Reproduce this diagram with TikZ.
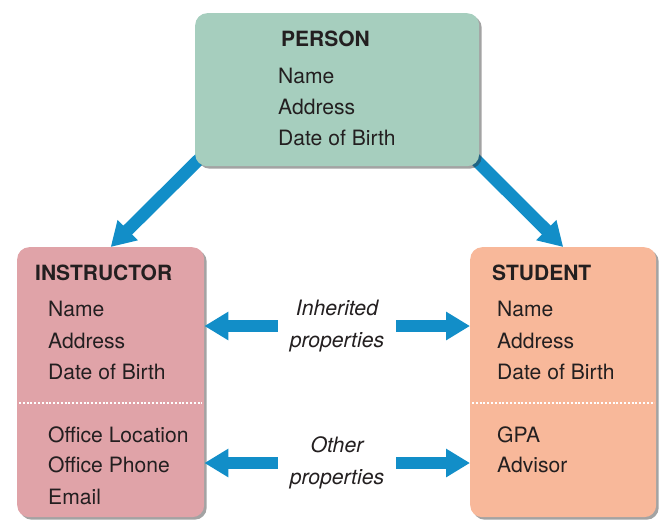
\documentclass[tikz,border=0pt]{standalone}
\usepackage{fontspec}
\setmainfont{TeX Gyre Heros}
\usetikzlibrary{arrows.meta,shadows,backgrounds}
\definecolor{ink}{HTML}{231F20}
\definecolor{personfill}{HTML}{A6CEBE}
\definecolor{instrfill}{HTML}{E0A3A8}
\definecolor{studfill}{HTML}{F8B89A}
\definecolor{arrowblue}{HTML}{128EC8}
\tikzset{
	box/.style={rounded corners=12pt, inner sep=0pt, anchor=north west,
		drop shadow={shadow xshift=2.5pt, shadow yshift=-2.5pt, opacity=.45, fill=black!80}},
	title/.style={anchor=base west, inner sep=0pt, text=ink, font=\fontsize{21}{24}\selectfont\bfseries},
	item/.style={anchor=base west, inner sep=0pt, text=ink, font=\fontsize{21.1}{24}\selectfont},
	note/.style={align=center, inner sep=0pt, minimum width=118pt, text=ink, font=\fontsize{21.2}{32}\selectfont\itshape},
	bigarrow/.style={draw=arrowblue, line width=12.5pt, -{Triangle[length=24pt,width=27pt]}},
	cut/.style={draw=white, line width=2pt, dash pattern=on 2pt off 1.8pt}
}
\begin{document}
\begin{tikzpicture}[x=1pt,y=-1pt]
	\useasboundingbox (0,0) rectangle (660,519);
	% the three classes
	\node[box, fill=personfill, minimum width=284pt, minimum height=153pt] (person) at (195,13) {};
	\node[box, fill=instrfill, minimum width=187pt, minimum height=270pt] (instr) at (17,247) {};
	\node[box, fill=studfill, minimum width=186pt, minimum height=270pt] (stud) at (470,247) {};

	\node[title] (ptitle) at (281,47) {PERSON};
	\foreach \t/\y [count=\i] in {Name/83, Address/114, Date of Birth/145}
		\node[item] (p\i) at (278,\y) {\t};

	\node[title] (ititle) at (35,280) {INSTRUCTOR};
	\foreach \t/\y [count=\i] in {Name/316, Address/348, Date of Birth/379, Office Location/442, Office Phone/472, Email/504}
		\node[item] (i\i) at (48,\y) {\t};

	\node[title] (stitle) at (492,280) {STUDENT};
	\foreach \t/\y [count=\i] in {Name/316, Address/348, Date of Birth/379, GPA/442, Advisor/472}
		\node[item] (s\i) at (497,\y) {\t};

	\coordinate (split) at (0,403);
	\draw[cut] ([xshift=2pt]instr.west |- split) -- ([xshift=-2pt]instr.east |- split);
	\draw[cut] ([xshift=2pt]stud.west |- split) -- ([xshift=-2pt]stud.east |- split);

	% inheritance
	\coordinate (pl) at ([shift={(12,-15)}]person.south west);
	\coordinate (pr) at ([shift={(-12,-15)}]person.south east);
	\begin{scope}[on background layer]
		\draw[bigarrow] (pl) -- (instr.north);
		\draw[bigarrow] (pr) -- (stud.north);
	\end{scope}

	\node[note] (inh) at (337,326) {Inherited\\properties};
	\node[note] (oth) at (337,463) {Other\\properties};
	\draw[bigarrow] (inh.west) -- (inh.west -| instr.east);
	\draw[bigarrow] (inh.east) -- (inh.east -| stud.west);
	\draw[bigarrow] (oth.west) -- (oth.west -| instr.east);
	\draw[bigarrow] (oth.east) -- (oth.east -| stud.west);
\end{tikzpicture}
\end{document}
